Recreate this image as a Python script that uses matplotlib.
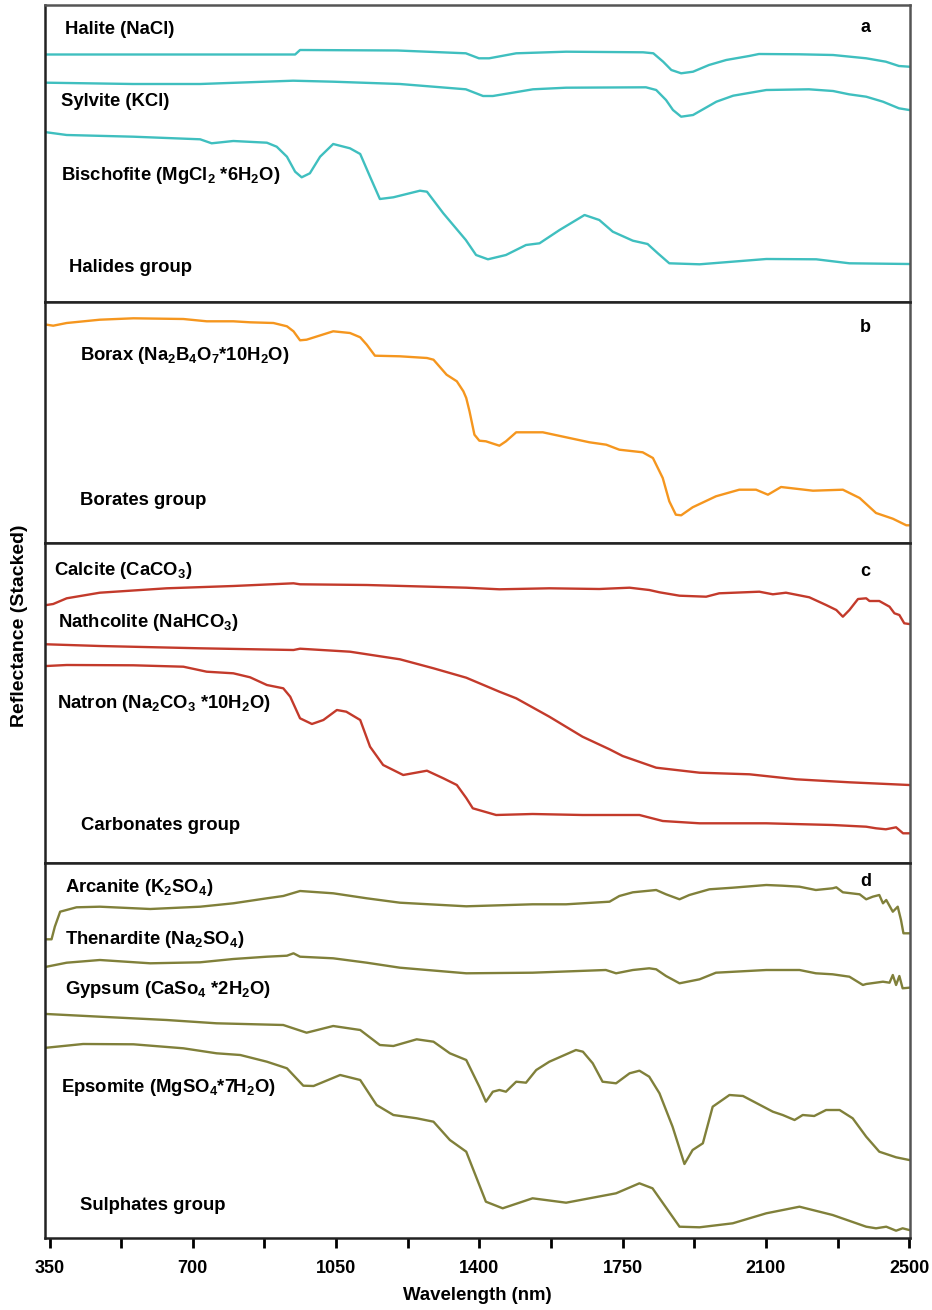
import matplotlib
matplotlib.use("Agg")
import matplotlib.pyplot as plt

# ---- panel a: halides ----
halite_nm = [343, 950, 962, 1200, 1367, 1399, 1424, 1490, 1612, 1800, 1825, 1849, 1869, 1893, 1922,
             1961, 2003, 2059, 2083, 2181, 2264, 2345, 2393, 2425, 2450]
halite_r = [247.5, 247.5, 252, 251.5, 248.7, 243.7, 243.7, 248.7, 250.3, 249.7, 248.7, 240.3, 232, 228.7,
            230.3, 237, 242, 246, 248, 247.7, 247, 243.7, 240.3, 236, 235.3]

sylvite_nm = [343, 554, 718, 945, 1043, 1206, 1367, 1409, 1433, 1531, 1612, 1807, 1832, 1856, 1873, 1893,
              1922, 1979, 2020, 2101, 2205, 2264, 2303, 2345, 2386, 2425, 2450]
sylvite_r = [219.3, 218, 218, 221.3, 220.3, 218, 212.7, 206, 206, 212.7, 214.3, 214.7, 212, 202, 192, 185.3,
             187, 200.3, 206.3, 212, 212.7, 211, 207.7, 205.3, 200.3, 193.7, 192]

bischofite_nm = [343, 392, 555, 718, 746, 799, 881, 905, 930, 950, 966, 986, 1011, 1043, 1084, 1109, 1133,
                 1157, 1190, 1255, 1272, 1312, 1367, 1392, 1421, 1465, 1514, 1547, 1596, 1657, 1693, 1726,
                 1775, 1811, 1836, 1864, 1938, 2101, 2223, 2304, 2450]
bischofite_r = [169.7, 167, 165.3, 162.7, 158.7, 161, 159.3, 155.3, 145.3, 130.3, 124.7, 128.7, 145.3, 158,
                153.7, 148, 125.3, 103, 104.7, 111.3, 110.3, 88.7, 62, 47, 42.7, 47, 57, 58.7, 72, 87, 82,
                70.3, 61.3, 58, 48.7, 38.7, 37.7, 43, 42.7, 38.7, 38]

# ---- panel b: borates ----
borax_nm = [343, 359, 392, 473, 555, 677, 734, 799, 840, 897, 930, 946, 962, 978, 1043, 1084, 1109, 1125,
            1145, 1206, 1272, 1288, 1320, 1345, 1361, 1368, 1376, 1388, 1400, 1416, 1449, 1465, 1490, 1555,
            1612, 1669, 1710, 1742, 1799, 1824, 1848, 1864, 1880, 1893, 1921, 1978, 2035, 2076, 2105, 2137,
            2215, 2288, 2329, 2369, 2410, 2443, 2450]
borax_r = [218.3, 217.3, 220, 223.3, 224.7, 224, 221.7, 221.7, 220.7, 220, 216.7, 211.7, 202.7, 203.3, 211.7,
           210, 205.7, 198.3, 187.3, 186.7, 185, 183.3, 168.3, 161.7, 151.7, 145, 131.7, 108.3, 102.3, 101.7,
           97.3, 101.7, 110.7, 110.7, 105.7, 100.7, 98.3, 93.3, 90.7, 85, 65, 41.7, 28.3, 27.7, 35.7, 46.7,
           53.3, 53.3, 48.3, 56, 52.3, 53.3, 45, 30, 24.3, 17.7, 17.7]

# ---- panel c: carbonates ----
calcite_nm = [343, 359, 392, 473, 636, 799, 946, 962, 1125, 1368, 1449, 1571, 1693, 1767, 1815, 1840, 1889,
              1954, 1986, 2084, 2117, 2149, 2206, 2247, 2272, 2288, 2304, 2325, 2345, 2353, 2377, 2402, 2414,
              2426, 2438, 2450]
calcite_r = [258, 259, 264.7, 270.3, 274.7, 277, 279.7, 278.7, 278, 275.3, 273.7, 274.7, 274, 275.3, 273,
             270.7, 267.3, 266.3, 269.7, 271.3, 268.7, 270.3, 265.7, 258, 253, 246.3, 253, 264, 264.7, 262,
             262, 256.3, 249.7, 248, 239.7, 239]

nathcolite_nm = [343, 473, 718, 946, 962, 1084, 1206, 1288, 1368, 1449, 1490, 1571, 1652, 1718, 1750, 1832,
                 1938, 2060, 2174, 2304, 2450]
nathcolite_r = [218.7, 217, 214.7, 213, 214.3, 211.3, 203.7, 194.7, 185.3, 171.3, 164.7, 146.3, 126.3, 113.7,
                107, 95.3, 90.3, 88.7, 83.7, 80.7, 78]

natron_nm = [343, 392, 555, 677, 734, 799, 840, 881, 921, 938, 962, 991, 1019, 1052, 1075, 1109, 1133, 1165,
             1214, 1272, 1312, 1345, 1368, 1384, 1441, 1530, 1652, 1791, 1848, 1938, 2101, 2263, 2345, 2369,
             2393, 2418, 2435, 2450]
natron_r = [197, 198, 197.7, 196.3, 191.3, 189.7, 185.7, 178, 174.7, 166.3, 144.7, 139, 143, 153, 151.3, 143,
            116.3, 98, 88, 92.3, 84.7, 78, 65, 54.7, 48, 49, 48, 48, 42, 39.7, 39.7, 38, 36.3, 34.7, 33.7,
            35.7, 29.7, 29.7]

# ---- panel d: sulphates ----
arcanite_nm = [343, 355, 363, 376, 416, 473, 596, 718, 799, 881, 921, 962, 1043, 1125, 1206, 1368, 1530, 1612,
               1718, 1742, 1775, 1815, 1832, 1856, 1889, 1913, 1962, 2019, 2101, 2141, 2182, 2222, 2263, 2272,
               2288, 2329, 2345, 2361, 2377, 2386, 2394, 2410, 2422, 2430, 2436, 2450]
arcanite_r = [298.7, 298.7, 311.3, 326.3, 330.7, 331.3, 329, 331.3, 334.7, 339.7, 342, 347, 344.7, 339.7,
              335.3, 331.7, 333.7, 333.7, 336.3, 342, 345.7, 347.3, 348, 343.7, 338.7, 343, 348.7, 350.3, 353,
              352.3, 351.3, 348, 349.7, 350.7, 345.7, 343.7, 338.7, 341.3, 343, 334.7, 338, 326.3, 331.3, 318,
              304.7, 304.7]

thenardite_nm = [343, 392, 473, 596, 718, 799, 881, 930, 946, 962, 1043, 1125, 1206, 1368, 1530, 1709, 1734,
                 1775, 1815, 1832, 1856, 1889, 1938, 1978, 2101, 2182, 2222, 2263, 2304, 2337, 2345, 2386,
                 2402, 2410, 2418, 2426, 2434, 2450]
thenardite_r = [271.3, 275.3, 278, 274.7, 275.7, 279, 281.3, 282.3, 284.7, 281.3, 279.7, 275.3, 270.3, 264.7,
                265.3, 268, 264.7, 268, 269.7, 268.7, 262, 254.7, 258.7, 265.3, 268, 268, 264.7, 263.7, 261.3,
                253, 254, 256.3, 255.3, 263, 253, 262, 249.7, 250.3]

gypsum_nm = [343, 473, 636, 758, 921, 978, 1043, 1109, 1157, 1190, 1247, 1288, 1328, 1368, 1400, 1416, 1433,
             1449, 1465, 1490, 1514, 1539, 1571, 1636, 1653, 1677, 1701, 1734, 1767, 1791, 1815, 1840, 1872,
             1901, 1921, 1946, 1970, 2011, 2044, 2117, 2141, 2170, 2190, 2218, 2247, 2280, 2312, 2345, 2377,
             2418, 2450]
gypsum_r = [224, 221.3, 218, 214.7, 213, 205.3, 212, 208, 193, 192, 198.7, 196.3, 184.7, 178, 151.3, 136.3,
            146.3, 148, 146.3, 156.3, 155.3, 168, 176.3, 188, 186.3, 174.7, 156.3, 154.7, 164.7, 167.3, 161.3,
            144.7, 111.3, 74, 88, 94.7, 131.3, 143, 142, 126.3, 123, 118, 123, 122, 128, 128, 119.7, 101.3,
            86.3, 80.7, 78]

epsomite_nm = [343, 432, 555, 677, 758, 816, 881, 930, 970, 995, 1060, 1109, 1149, 1190, 1247, 1288, 1328,
               1368, 1392, 1416, 1457, 1530, 1612, 1734, 1791, 1823, 1889, 1938, 2019, 2101, 2182, 2263, 2345,
               2369, 2394, 2418, 2434, 2450]
epsomite_r = [190.3, 194, 193.7, 189.7, 184.7, 183, 176.3, 169.7, 152.3, 152, 163, 158, 133, 123, 119.7, 116.3,
              98, 86.3, 61.3, 36.3, 29.7, 39.7, 35.3, 44.7, 54.7, 49.7, 11.3, 10.7, 14.7, 24.7, 31.3, 23, 11.3,
              9.7, 11.3, 7.3, 9.7, 8]

tick_pos = [350, 700, 1050, 1400, 1750, 2100, 2450]
tick_labels = ["350", "700", "1050", "1400", "1750", "2100", "2500"]
minor_pos = [525, 875, 1225, 1575, 1925, 2275]

plt.rcParams['font.family'] = 'Liberation Sans'
plt.rcParams['font.weight'] = 'bold'
plt.rcParams['mathtext.fontset'] = 'custom'
plt.rcParams['mathtext.rm'] = 'Liberation Sans:bold'
plt.rcParams['mathtext.it'] = 'Liberation Sans:bold'
plt.rcParams['mathtext.bf'] = 'Liberation Sans:bold'
plt.rcParams['mathtext.default'] = 'rm'

teal = "#3fbfbf"
orange = "#f5961e"
red = "#c33a2b"
olive = "#80803a"

fig = plt.figure(figsize=(9.32, 13.10), dpi=100)
gs = fig.add_gridspec(4, 1, height_ratios=[297, 241, 320, 375], hspace=0,
                      left=45/932, right=910/932, top=1-5/1310, bottom=1-1238/1310)
axes = [fig.add_subplot(gs[i]) for i in range(4)]
heights = [297, 241, 320, 375]

panels = [
    [(halite_nm, halite_r, teal), (sylvite_nm, sylvite_r, teal), (bischofite_nm, bischofite_r, teal)],
    [(borax_nm, borax_r, orange)],
    [(calcite_nm, calcite_r, red), (nathcolite_nm, nathcolite_r, red), (natron_nm, natron_r, red)],
    [(arcanite_nm, arcanite_r, olive), (thenardite_nm, thenardite_r, olive),
     (gypsum_nm, gypsum_r, olive), (epsomite_nm, epsomite_r, olive)],
]

labels = [
    [("Halite (NaCl)", 387, 273), ("Sylvite (KCl)", 377, 201),
     (r"Bischofite (MgCl$_2$ *6H$_2$O)", 377, 126), ("Halides group", 397, 35)],
    [(r"Borax (Na$_2$B$_4$O$_7$*10H$_2$O)", 425, 188), ("Borates group", 425, 42)],
    [(r"Calcite (CaCO$_3$)", 362, 292), (r"Nathcolite (NaHCO$_3$)", 370, 240),
     (r"Natron (Na$_2$CO$_3$ *10H$_2$O)", 368, 159), ("Carbonates group", 426, 38)],
    [(r"Arcanite (K$_2$SO$_4$)", 387, 351), (r"Thenardite (Na$_2$SO$_4$)", 389, 298),
     (r"Gypsum (CaSo$_4$ *2H$_2$O)", 389, 249), (r"Epsomite (MgSO$_4$*7H$_2$O)", 379, 150),
     ("Sulphates group", 424, 33)],
]
letters = [("a", 274), ("b", 215), ("c", 291), ("d", 356)]

for i, ax in enumerate(axes):
    for nm, r, c in panels[i]:
        ax.plot(nm, r, color=c, linewidth=1.7)
    for txt, x, y in labels[i]:
        ax.text(x, y, txt, fontsize=13.3, fontweight='bold', ha='left', va='center')
    ax.text(2343, letters[i][1], letters[i][0], fontsize=13, fontweight='bold', ha='center', va='center')
    ax.set_xlim(339, 2452)
    ax.set_ylim(0, heights[i])
    ax.set_yticks([])
    for s in ax.spines.values():
        s.set_linewidth(1.8)
        s.set_color('#222222')
    ax.spines['right'].set_color('#555555')
    if i < 3:
        ax.set_xticks([])
    else:
        ax.set_xticks(tick_pos)
        ax.set_xticklabels(tick_labels)
        ax.set_xticks(minor_pos, minor=True)
        ax.tick_params(axis='x', which='both', direction='out', length=7, width=2, labelsize=13, pad=9)
        ax.set_xlabel("Wavelength (nm)", fontsize=13.4, fontweight='bold', labelpad=7)

axes[0].spines['top'].set_color('#555555')
fig.text(20/932, 1-626/1310, "Reflectance (Stacked)", rotation=90, fontsize=14, fontweight='bold',
         ha='center', va='center')

fig.savefig("out.png", dpi=100)
